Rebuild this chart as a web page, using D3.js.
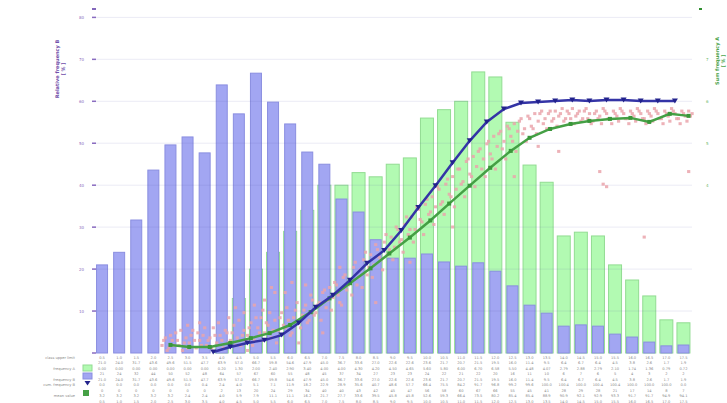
<!DOCTYPE html>
<html>
<head>
<meta charset="utf-8">
<script src="https://cdn.jsdelivr.net/npm/d3@7"></script>
<style>
  body { margin: 0; background: #fff; }
  svg { display: block; font-family: "DejaVu Sans", sans-serif; }
</style>
</head>
<body>
<div id="chart"></div>
<script>
// bins (class labels)
const binLabels = ["0.5","1.0","1.5","2.0","2.5","3.0","3.5","4.0","4.5","5.0","5.5","6.0","6.5","7.0","7.5",
  "8.0","8.5","9.0","9.5","10.0","10.5","11.0","11.5","12.0","12.5","13.0","13.5","14.0","14.5","15.0",
  "15.5","16.0","16.5","17.0","17.5"];

// frequency B (left axis)
const freqB = [21, 24, 31.7, 43.6, 49.6, 51.5, 47.7, 63.9, 57, 66.7, 59.8, 54.6, 47.9, 45, 36.7, 33.6, 27, 22.6,
  22.6, 23.6, 21.7, 20.7, 21.5, 19.5, 16, 11.4, 9.5, 6.4, 6.7, 6.4, 4.5, 3.8, 2.6, 1.7, 1.9];

// frequency A (right axis)
const freqA = [0, 0, 0, 0, 0, 0, 0, 0.2, 1.3, 2.0, 2.4, 2.9, 3.4, 4.0, 4.0, 4.3, 4.2, 4.5, 4.65, 5.6, 5.8, 6.0,
  6.7, 6.58, 5.5, 4.48, 4.07, 2.79, 2.88, 2.79, 2.1, 1.74, 1.36, 0.79, 0.72];

// cumulative frequency B [%] at upper class edges
const cumEdge = [7, 8, 9, 10, 11, 12, 13, 14, 15, 16, 17, 18, 19, 20, 21, 22, 23, 24, 25, 26, 27, 28, 29, 30, 31, 32, 33, 34];
const cumB = [0.4, 2.4, 4, 5.1, 7.1, 11.9, 18.2, 22.9, 28.9, 35.6, 40.7, 48.6, 57.7, 66.4, 75.5, 84.2, 91.7, 96.8,
  99.2, 99.6, 100, 100.4, 100, 100.4, 100.4, 100, 100, 100];

// running mean of the single values [%]
const meanX = [4.5, 5.6, 6.8, 8, 9.2, 10.3, 11.5, 12.7, 13.8, 15, 16.2, 17.3, 18.5, 19.7, 20.8, 22, 23.2, 24.4,
  25.5, 26.7, 27.9, 29, 30.2, 31.4, 32.5, 33.7, 34.8];
const meanY = [3.2, 2.4, 2.4, 4, 5.9, 7.9, 11.1, 16.2, 21.7, 27.7, 33.6, 39.5, 45.8, 52.6, 59.3, 66.4, 73.5, 80.2,
  85.4, 88.9, 90.9, 92.1, 92.9, 93.3, 91.7, 94.9, 94.1];

// single measurements [class position, %]
const singleA = [
  [4.0,3],[4.2,6],[4.4,2],[4.6,5],[4.8,8],[5.0,3],[5.2,1],[5.4,6],[5.6,4],[5.8,9],[6.0,2],[6.2,5],[6.4,7],[6.6,3],
  [6.8,6],[7.0,10],[7.2,4],[7.4,7],[7.6,2],[7.8,8],[8.0,5],[8.2,11],[8.4,6],[8.6,3],[8.8,9],[9.0,7],[9.2,12],
  [9.4,5],[9.6,10],[9.8,14],[10.0,8],[10.2,11],[10.4,6],[10.6,13],[10.8,9],[11.0,16],[11.2,10],[11.4,13],[11.6,8],
  [11.8,17],[12.0,12],[12.2,15],[12.4,19],[12.6,13],[12.8,21],[13.0,16],[13.2,20],[13.4,24],[13.6,18],[13.8,26],
  [14.0,22],[14.2,27],[14.4,20],[14.6,30],[14.8,25],[15.0,29],[15.2,34],[15.4,27],[15.6,33],[15.8,37],[16.0,31],
  [16.2,39],[16.4,35],[16.6,41],[16.8,37],[17.0,44],[17.2,39],[17.4,46],[17.6,42],[17.8,49],[18.0,45],[18.2,51],
  [18.4,47],[18.6,54],[18.8,49],[19.0,57],[19.2,52],[19.4,59],[19.6,55],[19.8,62],[20.0,58],[20.2,65],[20.4,60],
  [20.6,67],[20.8,63],[21.0,70],[21.2,65],[21.4,73],[21.6,68],[21.8,76],[22.0,71],[22.2,78],[22.4,74],[22.6,81],
  [22.8,77],[23.0,83],[23.2,79],[23.4,86],[23.6,82],[23.8,88],[24.0,84],[24.2,90],[24.4,86],[24.6,91],[24.8,88],
  [25.0,93],[25.2,89],[25.4,94],[25.6,90],[25.8,95],[26.0,92],[26.2,96],[26.4,93],[26.6,95],[26.8,92],[27.0,96],
  [27.2,94],[27.4,97],[27.6,93],[27.8,95],[28.0,97],[28.2,94],[28.4,96],[28.6,93],[28.8,97],[29.0,95],[29.2,92],
  [29.4,96],[29.6,94],[29.8,97],[30.0,95],[30.2,93],[30.4,96],[30.6,94],[30.8,97],[31.0,95],[31.2,93],[31.4,96],
  [31.6,94],[31.8,97],[32.0,95],[32.2,93],[32.4,96],[32.6,94],[32.8,97],[33.0,95],[33.2,93],[33.4,96],[33.6,94],
  [33.8,97],[34.0,95],[34.2,93],[34.4,96],[34.6,94],[34.8,96],[35.0,95]
];
const singleB = [
  [4.1,5],[4.3,1],[4.5,7],[4.7,3],[4.9,5],[5.1,9],[5.3,4],[5.5,2],[5.7,7],[5.9,5],[6.1,8],[6.3,3],[6.5,10],[6.7,5],
  [6.9,2],[7.1,7],[7.3,12],[7.5,5],[7.7,9],[7.9,4],[8.1,8],[8.3,3],[8.5,13],[8.7,7],[8.9,5],[9.1,10],[9.3,3],
  [9.5,14],[9.7,8],[9.9,5],[10.1,12],[10.3,16],[10.5,9],[10.7,4],[10.9,14],[11.1,11],[11.3,18],[11.5,7],[11.7,14],
  [11.9,20],[12.1,10],[12.3,17],[12.5,12],[12.7,23],[12.9,15],[13.1,19],[13.3,13],[13.5,25],[13.7,21],[13.9,17],
  [14.1,28],[14.3,23],[14.5,19],[14.7,31],[14.9,27],[15.1,23],[15.3,36],[15.5,30],[15.7,26],[15.9,40],[16.1,34],
  [16.3,30],[16.5,43],[16.7,38],[16.9,33],[17.1,47],[17.3,41],[17.5,37],[17.7,50],[17.9,44],[18.1,40],[18.3,54],
  [18.5,49],[18.7,44],[18.9,58],[19.1,53],[19.3,47],[19.5,61],[19.7,56],[19.9,51],[20.1,66],[20.3,59],[20.5,55],
  [20.7,69],[20.9,62],[21.1,58],[21.3,73],[21.5,67],[21.7,62],[21.9,77],[22.1,70],[22.3,66],[22.5,80],[22.7,73],
  [22.9,70],[23.1,84],[23.3,77],[23.5,73],[23.7,87],[23.9,81],[24.1,77],[24.3,89],[24.5,84],[24.7,80],[24.9,92],
  [25.1,87],[25.3,84],[25.5,93],[25.7,89],[25.9,87],[26.1,95],[26.3,91],[26.5,89],[26.7,96],[26.9,93],[27.1,90],
  [27.3,95],[27.5,92],[27.7,96],[27.9,93],[28.1,91],[28.3,95],[28.5,92],[28.7,96],[28.9,93],[29.1,91],[29.3,95],
  [29.5,93],[29.7,91],[29.9,96],[30.1,93],[30.3,91],[30.5,95],[30.7,92],[30.9,96],[31.1,93],[31.3,91],[31.5,95],
  [31.7,92],[31.9,96],[32.1,93],[32.3,91],[32.5,95],[32.7,92],[32.9,96],[33.1,93],[33.3,91],[33.5,95],[33.7,92],
  [33.9,96],[34.1,93],[34.3,91],[34.5,95],[34.7,92],[34.9,94]
];
const singleOut = [[29.8,67],[30.0,66],[29.6,72],[32.2,46],[34.8,72],[27.2,80],[13.4,8],[16.5,20],[24.6,70],
  [26.0,82],[12.0,4],[9.0,1],[21.0,50],[18.5,36],[8.8,16],[9.4,19],[10.0,21],[10.6,24],[9.9,17],[10.4,26],
  [7.9,14],[8.3,18],[11.2,24],[11.6,28],[6.2,12],[5.5,11],[12.4,27],[14.4,34]];

const leftTicks = [0, 10, 20, 30, 40, 50, 60, 70, 80];
const rightTicks = [4, 5, 6, 7];

const width = 727, height = 403;
const plot = {left: 93.5, right: 692, top: 9, bottom: 353};

const svg = d3.select("#chart").append("svg")
  .attr("width", width)
  .attr("height", height);

const x = d3.scaleLinear().domain([0, binLabels.length]).range([plot.left, plot.right]);
const yL = d3.scaleLinear().domain([0, 82]).range([plot.bottom, plot.top]);
const yR = d3.scaleLinear().domain([0, 8.2]).range([plot.bottom, plot.top]);
const yP = d3.scaleLinear().domain([0, 100]).range([plot.bottom, 101]);

// frequency A bars (behind)
svg.append("g").selectAll("rect")
  .data(freqA)
  .join("rect")
    .attr("x", (d, i) => x(i + 0.5) - 6.5)
    .attr("width", 13)
    .attr("y", d => yR(d))
    .attr("height", d => yR(0) - yR(d))
    .attr("fill", "#b2fab2")
    .attr("stroke", "#92dc92")
    .attr("stroke-width", 1);

// frequency B bars
svg.append("g").selectAll("rect")
  .data(freqB)
  .join("rect")
    .attr("x", (d, i) => x(i + 0.5) - 5.5)
    .attr("width", 11)
    .attr("y", d => yL(d))
    .attr("height", d => yL(0) - yL(d))
    .attr("fill", "#a2a6f2")
    .attr("stroke", "#8a8ee0")
    .attr("stroke-width", 1);

// faint grid
svg.append("g").selectAll("line")
  .data(leftTicks.slice(1))
  .join("line")
    .attr("x1", plot.left).attr("x2", plot.right)
    .attr("y1", d => yL(d)).attr("y2", d => yL(d))
    .attr("stroke", "rgba(90,90,170,0.12)");

// single values
svg.append("g").selectAll("rect")
  .data(singleA.concat(singleB, singleOut))
  .join("rect")
    .attr("x", d => x(d[0]) - 1.5)
    .attr("y", d => yP(d[1]) - 1.5)
    .attr("width", 3.2)
    .attr("height", 3)
    .attr("fill", "#eaa4ac")
    .attr("opacity", 0.85);

// mean line
const meanPts = meanX.map((v, i) => [v, meanY[i]]);
svg.append("path")
  .datum(meanPts)
  .attr("fill", "none")
  .attr("stroke", "#45a045")
  .attr("stroke-width", 2.5)
  .attr("d", d3.line().x(d => x(d[0])).y(d => yP(d[1])));
svg.append("g").selectAll("rect")
  .data(meanPts)
  .join("rect")
    .attr("x", d => x(d[0]) - 2)
    .attr("y", d => yP(d[1]) - 2)
    .attr("width", 4).attr("height", 4)
    .attr("fill", "#3a963a");

// cumulative line
const cumPts = cumEdge.map((v, i) => [v, cumB[i]]);
svg.append("path")
  .datum(cumPts)
  .attr("fill", "none")
  .attr("stroke", "#3434a6")
  .attr("stroke-width", 2.5)
  .attr("d", d3.line().x(d => x(d[0])).y(d => yP(d[1])));
svg.append("g").selectAll("path")
  .data(cumPts)
  .join("path")
    .attr("transform", d => `translate(${x(d[0])},${yP(d[1])})`)
    .attr("d", "M-3,-2.5L3,-2.5L0,2.5Z")
    .attr("fill", "#22228c");

// left axis
const gl = svg.append("g");
gl.selectAll("line")
  .data(leftTicks)
  .join("line")
    .attr("x1", 92).attr("x2", 96)
    .attr("y1", d => yL(d)).attr("y2", d => yL(d))
    .attr("stroke", "#8a6cc0").attr("stroke-width", 1.5);
gl.selectAll("text")
  .data(leftTicks.slice(1))
  .join("text")
    .attr("x", 84).attr("y", d => yL(d) + 1.5)
    .attr("text-anchor", "end")
    .attr("fill", "#8a6cc0")
    .style("font-size", "4px")
    .text(d => d);
gl.append("line")
  .attr("x1", 92).attr("x2", 96).attr("y1", 9).attr("y2", 9)
  .attr("stroke", "#5a34a4").attr("stroke-width", 1.5);
gl.append("text")
  .attr("transform", "translate(59,69) rotate(-90)")
  .attr("text-anchor", "middle")
  .attr("fill", "#7050aa")
  .style("font-size", "5px")
  .style("font-weight", "bold")
  .text("Relative frequency B");
gl.append("text")
  .attr("transform", "translate(65,69) rotate(-90)")
  .attr("text-anchor", "middle")
  .attr("fill", "#7050aa")
  .style("font-size", "5px")
  .style("font-weight", "bold")
  .text("[ % ]");

// right axis
const gr = svg.append("g");
gr.selectAll("text")
  .data(rightTicks)
  .join("text")
    .attr("x", 706).attr("y", d => yR(d) + 1.5)
    .attr("fill", "#6ab86a")
    .style("font-size", "4px")
    .text(d => d);
gr.append("rect")
  .attr("x", 699).attr("y", 8).attr("width", 3).attr("height", 2)
  .attr("fill", "#2e8e2e");
gr.append("text")
  .attr("transform", "translate(719,61) rotate(-90)")
  .attr("text-anchor", "middle")
  .attr("fill", "#4ea44e")
  .style("font-size", "5px")
  .style("font-weight", "bold")
  .text("Sum frequency A");
gr.append("text")
  .attr("transform", "translate(725,61) rotate(-90)")
  .attr("text-anchor", "middle")
  .attr("fill", "#4ea44e")
  .style("font-size", "5px")
  .style("font-weight", "bold")
  .text("[ % ]");

// data table below the chart
const rowY = [357, 362.5, 368, 373.5, 379, 384.5, 390, 395.5, 401];
const rowNames = ["class upper limit", "", "frequency A", "", "frequency B", "cum. frequency B", "", "mean value", ""];
const rowValues = [
  binLabels,
  binLabels.map((d, i) => freqB[i].toFixed(1)),
  freqA.map(d => d.toFixed(2)),
  freqB.map(d => Math.round(d)),
  freqB.map(d => d.toFixed(1)),
  binLabels.map((d, i) => { const j = cumEdge.indexOf(i + 1); return j < 0 ? "0.0" : cumB[j].toFixed(1); }),
  freqA.map(d => Math.round(d * 10)),
  binLabels.map((d, i) => { const j = d3.bisectLeft(meanX, i + 0.5); return j < meanY.length ? meanY[j].toFixed(1) : ""; }),
  binLabels
];
const table = svg.append("g").style("font-size", "3.6px").attr("fill", "#8a8a8a");
rowY.forEach((ry, r) => {
  table.append("text").attr("x", 75).attr("y", ry + 1.5).attr("text-anchor", "end")
    .text(rowNames[r]);
  table.append("g").selectAll("text")
    .data(rowValues[r])
    .join("text")
      .attr("x", (d, i) => x(i + 0.5))
      .attr("y", ry + 1.5)
      .attr("text-anchor", "middle")
      .text(d => d);
});

// legend swatches in the table
const lg = svg.append("g");
lg.append("rect").attr("x", 83).attr("y", 365).attr("width", 9).attr("height", 6)
  .attr("fill", "#b2fab2").attr("stroke", "#92dc92");
lg.append("rect").attr("x", 83).attr("y", 373).attr("width", 9).attr("height", 6)
  .attr("fill", "#a2a6f2").attr("stroke", "#8a8ee0");
lg.append("path").attr("transform", "translate(87.5,383)")
  .attr("d", "M-3,-2L3,-2L0,2.5Z").attr("fill", "#22228c");
lg.append("rect").attr("x", 83).attr("y", 390).attr("width", 6).attr("height", 6)
  .attr("fill", "#45a045");
</script>
</body>
</html>
